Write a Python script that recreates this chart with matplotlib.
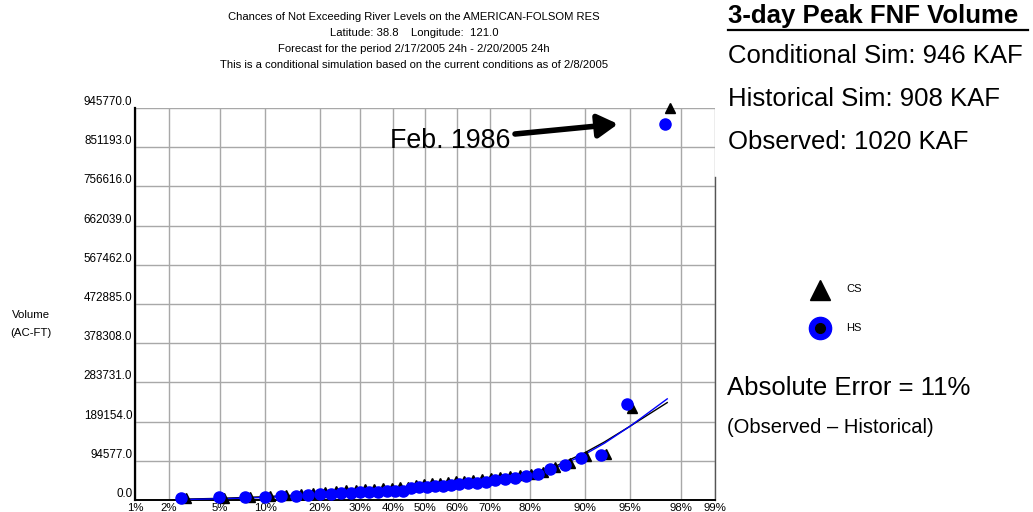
import math
import numpy as np
import matplotlib
matplotlib.use("Agg")
import matplotlib.pyplot as plt
from matplotlib.transforms import offset_copy

plt.rcParams['font.family'] = ['Liberation Sans', 'DejaVu Sans']

# ---------------- data ----------------
nonexceed_pct = [2.6, 5.1, 7.7, 10.3, 12.8, 15.4, 17.9, 20.5, 23.1, 25.6,
                 28.2, 30.8, 33.3, 35.9, 38.5, 41.0, 43.6, 46.2, 48.7, 51.3,
                 53.8, 56.4, 59.0, 61.5, 64.1, 66.7, 69.2, 71.8, 74.4, 76.9,
                 79.5, 82.1, 84.6, 87.2, 89.7, 92.3, 94.9, 97.4]
hs_volume = [6000, 6500, 7000, 8000, 8500, 9500, 13000, 14500, 15500, 16000,
             18000, 19000, 20000, 20500, 21000, 21500, 22500, 29000, 30500, 31500,
             33000, 34500, 36500, 38500, 41000, 41500, 43000, 48000, 51000, 54000,
             58000, 63000, 75000, 85000, 101000, 108000, 232000, 908000]
cs_volume = [5000, 6000, 7500, 10000, 12000, 14000, 18000, 20000, 21500, 23000,
             25000, 26000, 27500, 29000, 30000, 31000, 32000, 37000, 38500, 40000,
             42000, 43500, 45000, 47000, 49000, 50500, 52000, 55000, 57000, 60000,
             63000, 68000, 79000, 89000, 106000, 110000, 222000, 946000]

fit_pct = [2.5, 5, 10, 20, 30, 40, 50, 60, 70, 80, 85, 90, 92.5, 95, 96.5, 97.4]
cs_fit = [2000, 4000, 8000, 15000, 21000, 27000, 33000, 40000, 50000, 66000,
          80000, 114000, 140000, 178000, 210000, 235000]
hs_fit = [1000, 3000, 6000, 12000, 18000, 24000, 31000, 38000, 47000, 62000,
          76000, 110000, 137000, 178000, 215000, 244000]

x_ticks = [1, 2, 5, 10, 20, 30, 40, 50, 60, 70, 80, 90, 95, 98, 99]
x_tick_labels = ["1%", "2%", "5%", "10%", "20%", "30%", "40%", "50%", "60%",
                 "70%", "80%", "90%", "95%", "98%", "99%"]
y_max = 945770.0
y_step = 94577.0

title_lines = [
    "Chances of Not Exceeding River Levels on the AMERICAN-FOLSOM RES",
    "Latitude: 38.8    Longitude:  121.0",
    "Forecast for the period 2/17/2005 24h - 2/20/2005 24h",
    "This is a conditional simulation based on the current conditions as of 2/8/2005",
]

# ---------------- normal probability scale ----------------
_a = [-3.969683028665376e+01, 2.209460984245205e+02, -2.759285104469687e+02,
      1.383577518672690e+02, -3.066479806614716e+01, 2.506628277459239e+00]
_b = [-5.447609879822406e+01, 1.615858368580409e+02, -1.556989798598866e+02,
      6.680131188771972e+01, -1.328068155288572e+01]
_c = [-7.784894002430293e-03, -3.223964580411365e-01, -2.400758277161838e+00,
      -2.549671348980120e+00, 4.374664141464968e+00, 2.938163982698783e+00]
_d = [7.784695709041462e-03, 3.224671290700398e-01, 2.445134137625169e+00,
      3.754408661907416e+00]


def _ppf(p):
    p = np.clip(np.asarray(p, dtype=float), 1e-9, 1 - 1e-9)
    plow = 0.02425
    with np.errstate(all='ignore'):
        q = np.sqrt(-2 * np.log(p))
        lo = (((((_c[0]*q+_c[1])*q+_c[2])*q+_c[3])*q+_c[4])*q+_c[5]) / \
             ((((_d[0]*q+_d[1])*q+_d[2])*q+_d[3])*q+1)
        qu = np.sqrt(-2 * np.log(1 - p))
        hi = -(((((_c[0]*qu+_c[1])*qu+_c[2])*qu+_c[3])*qu+_c[4])*qu+_c[5]) / \
             ((((_d[0]*qu+_d[1])*qu+_d[2])*qu+_d[3])*qu+1)
        qm = p - 0.5
        r = qm * qm
        mid = (((((_a[0]*r+_a[1])*r+_a[2])*r+_a[3])*r+_a[4])*r+_a[5])*qm / \
              (((((_b[0]*r+_b[1])*r+_b[2])*r+_b[3])*r+_b[4])*r+1)
    return np.where(p < plow, lo, np.where(p > 1 - plow, hi, mid))


_erf = np.vectorize(math.erf)


def fwd(x):
    return _ppf(np.asarray(x, dtype=float) / 100.0)


def inv(z):
    return 100.0 * 0.5 * (1 + _erf(np.asarray(z, dtype=float) / math.sqrt(2)))


# ---------------- figure ----------------
W, H = 1033, 512
fig = plt.figure(figsize=(W / 100, H / 100), dpi=100)
ax = fig.add_axes([135 / W, 12 / H, 580 / W, 392 / H])
ax.set_xscale('function', functions=(fwd, inv))
ax.set_xlim(1, 99)
ax.set_ylim(0, y_max)

ax.set_xticks(x_ticks)
ax.set_xticklabels(x_tick_labels, fontsize=8.2)
yt = [y_step * i for i in range(11)]
ax.set_yticks(yt)
ax.set_yticklabels(["%.1f" % v for v in yt], fontsize=8.4)
for lab in ax.get_yticklabels():
    lab.set_verticalalignment('bottom')
ax.tick_params(length=0, pad=2)
ax.minorticks_off()

ax.grid(True, color='#a8a8a8', lw=1.0)
ax.set_axisbelow(True)
ax.spines['top'].set_visible(False)
ax.spines['left'].set_linewidth(1.6)
ax.spines['bottom'].set_linewidth(1.4)
ax.spines['right'].set_color('#555555')
ax.spines['right'].set_linewidth(1.0)
ax.spines['right'].set_bounds(0, 779000)

tri_tr = offset_copy(ax.transData, fig=fig, x=3, y=0, units='dots')
cir_tr = offset_copy(ax.transData, fig=fig, x=-2, y=0, units='dots')

ax.plot(fit_pct, cs_fit, color='black', lw=1.0, zorder=3)
ax.plot(fit_pct, hs_fit, color='blue', lw=1.0, zorder=3)
ax.plot(nonexceed_pct, cs_volume, linestyle='none', marker='^', ms=7.5,
        color='black', zorder=4, clip_on=False, transform=tri_tr)
ax.plot(nonexceed_pct, hs_volume, linestyle='none', marker='o', ms=8,
        color='blue', zorder=5, clip_on=False, transform=cir_tr)

# ---------------- overlay texts ----------------
ov = fig.add_axes([0, 0, 1, 1], zorder=10)
ov.set_xlim(0, W)
ov.set_ylim(H, 0)
ov.axis('off')
ov.patch.set_alpha(0)

for i, line in enumerate(title_lines):
    ov.text(414, 17 + 16 * i, line, ha='center', va='center', fontsize=8.1)

ov.text(31, 315, "Volume", ha='center', va='center', fontsize=8.2)
ov.text(31, 333, "(AC-FT)", ha='center', va='center', fontsize=8.2)

ov.text(390, 148, "Feb. 1986", ha='left', va='baseline', fontsize=19.3)
ov.annotate("", xy=(618, 124), xytext=(515, 134),
            arrowprops=dict(arrowstyle='-|>,head_length=0.6,head_width=0.35',
                            lw=4, color='black', mutation_scale=20,
                            shrinkA=0, shrinkB=0))

ov.text(728, 23, "3-day Peak FNF Volume", ha='left', va='baseline',
        fontsize=18.5, fontweight='bold')
ov.plot([728, 1028], [29.5, 29.5], color='black', lw=1.6)
ov.text(728, 63, "Conditional Sim: 946 KAF", ha='left', va='baseline', fontsize=18.5)
ov.text(728, 106, "Historical Sim: 908 KAF", ha='left', va='baseline', fontsize=18.5)
ov.text(728, 149, "Observed: 1020 KAF", ha='left', va='baseline', fontsize=18.5)

ov.plot([820], [290], marker='^', ms=15, color='black', linestyle='none')
ov.text(846, 289, "CS", ha='left', va='center', fontsize=8)
ov.plot([820], [328], marker='o', ms=16, color='blue', linestyle='none')
ov.plot([820], [328], marker='o', ms=7, color='black', linestyle='none')
ov.text(846, 328, "HS", ha='left', va='center', fontsize=8)

ov.text(727, 395, "Absolute Error = 11%", ha='left', va='baseline', fontsize=18.5)
ov.text(727, 433, "(Observed \u2013 Historical)", ha='left', va='baseline', fontsize=14.5)

fig.savefig("out.png", dpi=100)
